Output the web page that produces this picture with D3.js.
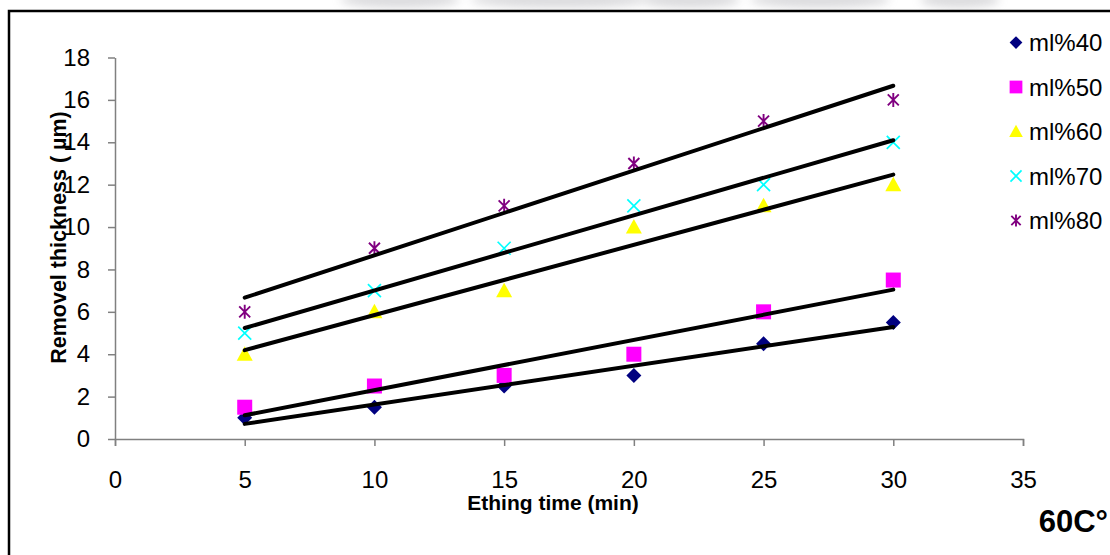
<!DOCTYPE html>
<html lang="en">
<head>
  <meta charset="UTF-8">
  <title>Removel thickness vs ething time</title>
  <script src="https://d3js.org/d3.v7.min.js"></script>
  <style>
    body { margin: 0; background: #fff; }
    svg text { font-family: "Liberation Sans", Arial, sans-serif; fill: #000; }
    .axis path, .axis line { stroke: #808080; stroke-width: 1.5; }
    .axis text { font-size: 24px; }
    .title { font-size: 21px; font-weight: bold; }
    .legend text { font-size: 24px; }
  </style>
</head>
<body>
  <div id="chart"></div>

  <script>
    const times = [5, 10, 15, 20, 25, 30];
    const seriesNames = ["ml%40", "ml%50", "ml%60", "ml%70", "ml%80"];
    const ml40 = [1, 1.5, 2.5, 3, 4.5, 5.5];
    const ml50 = [1.5, 2.5, 3, 4, 6, 7.5];
    const ml60 = [4, 6, 7, 10, 11, 12];
    const ml70 = [5, 7, 9, 11, 12, 14];
    const ml80 = [6, 9, 11, 13, 15, 16];
    const xTicks = [0, 5, 10, 15, 20, 25, 30, 35];
    const yTicks = [0, 2, 4, 6, 8, 10, 12, 14, 16, 18];

    const seriesValues = [ml40, ml50, ml60, ml70, ml80];
    const colors = ["#000080", "#ff00ff", "#ffff00", "#00ffff", "#800080"];
    const shapes = ["diamond", "square", "triangle", "x", "star"];

    const W = 1110, H = 555;
    const plot = { left: 115, right: 1023, top: 57.5, bottom: 439 };

    const svg = d3.select("#chart")
      .append("svg")
      .attr("width", W)
      .attr("height", H);

    // faded strip above the frame
    const defs = svg.append("defs");
    defs.append("filter").attr("id", "blur")
      .append("feGaussianBlur").attr("stdDeviation", 5);
    const wm = svg.append("g").attr("filter", "url(#blur)").attr("opacity", 0.35);
    [[400, 60], [560, 90], [690, 50], [820, 70], [960, 40]].forEach(([cx, rx]) => {
      wm.append("ellipse").attr("cx", cx).attr("cy", 0).attr("rx", rx).attr("ry", 8).attr("fill", "#9a9aa0");
    });
    svg.append("rect").attr("x", 0).attr("y", 10).attr("width", W).attr("height", H).attr("fill", "#fff");

    // outer frame
    svg.append("rect")
      .attr("x", 9).attr("y", 11)
      .attr("width", W + 20).attr("height", H + 20)
      .attr("fill", "none")
      .attr("stroke", "#000")
      .attr("stroke-width", 2.5);

    const x = d3.scaleLinear().domain([0, 35]).range([plot.left, plot.right]);
    const y = d3.scaleLinear().domain([0, 18]).range([plot.bottom, plot.top]);

    svg.append("g")
      .attr("class", "axis")
      .attr("transform", `translate(0,${plot.bottom})`)
      .call(d3.axisBottom(x).tickValues(xTicks).tickSize(7).tickSizeOuter(7).tickPadding(25));

    svg.append("g")
      .attr("class", "axis")
      .attr("transform", `translate(${plot.left},0)`)
      .call(d3.axisLeft(y).tickValues(yTicks).tickSize(7).tickSizeOuter(0).tickPadding(18));

    svg.selectAll(".axis text").attr("font-family", "Liberation Sans, Arial, sans-serif");

    // trend lines (least squares)
    function fit(vals) {
      const mx = d3.mean(times), my = d3.mean(vals);
      const sxy = d3.sum(times, (t, i) => (t - mx) * (vals[i] - my));
      const sxx = d3.sum(times, t => (t - mx) * (t - mx));
      const b = sxy / sxx;
      return t => my + b * (t - mx);
    }
    const t0 = d3.min(times), t1 = d3.max(times);

    // markers
    function marker(g, shape, color, k = 1) {
      if (shape === "diamond") {
        g.append("path").attr("d", `M0,${-7.5 * k}L${7.5 * k},0L0,${7.5 * k}L${-7.5 * k},0Z`).attr("fill", color);
      } else if (shape === "square") {
        g.append("rect").attr("x", -7.5 * k).attr("y", -7.5 * k).attr("width", 15 * k).attr("height", 15 * k).attr("fill", color);
      } else if (shape === "triangle") {
        g.append("path").attr("d", `M0,${-8 * k}L${8 * k},${6.5 * k}L${-8 * k},${6.5 * k}Z`).attr("fill", color);
      } else if (shape === "x") {
        g.append("path").attr("d", `M${-6.5 * k},${-6.5 * k}L${6.5 * k},${6.5 * k}M${-6.5 * k},${6.5 * k}L${6.5 * k},${-6.5 * k}`)
          .attr("stroke", color).attr("stroke-width", 1.7).attr("fill", "none");
      } else {
        g.append("path").attr("d", `M${-5.5 * k},${-5.5 * k}L${5.5 * k},${5.5 * k}M${-5.5 * k},${5.5 * k}L${5.5 * k},${-5.5 * k}M0,${-7 * k}L0,${7 * k}`)
          .attr("stroke", color).attr("stroke-width", 1.9).attr("fill", "none");
      }
    }

    seriesValues.forEach((vals, s) => {
      const g = svg.append("g");
      vals.forEach((v, i) => {
        marker(g.append("g").attr("transform", `translate(${x(times[i])},${y(v)})`), shapes[s], colors[s]);
      });
    });

    seriesValues.forEach(vals => {
      const f = fit(vals);
      svg.append("line")
        .attr("x1", x(t0)).attr("y1", y(f(t0)))
        .attr("x2", x(t1)).attr("y2", y(f(t1)))
        .attr("stroke", "#000")
        .attr("stroke-width", 4)
        .attr("stroke-linecap", "round");
    });

    // axis titles
    svg.append("text")
      .attr("class", "title")
      .attr("x", 553).attr("y", 510)
      .attr("text-anchor", "middle")
      .text("Ething time (min)");

    svg.append("text")
      .attr("class", "title")
      .attr("font-size", "21.5px")
      .style("font-size", "21.5px")
      .attr("transform", "translate(66,237.5) rotate(-90)")
      .attr("text-anchor", "middle")
      .text("Removel thickness ( µm)");

    svg.append("text")
      .attr("x", 1108).attr("y", 532)
      .attr("text-anchor", "end")
      .attr("font-size", 31)
      .attr("font-weight", "bold")
      .text("60C°");

    // legend
    const legend = svg.append("g").attr("class", "legend");
    seriesNames.forEach((name, i) => {
      const row = legend.append("g").attr("transform", `translate(1016,${42.5 + i * 44.5})`);
      marker(row.append("g"), shapes[i], colors[i], 0.85);
      row.append("text").attr("x", 13).attr("y", 8.5).text(name);
    });
  </script>
</body>
</html>
